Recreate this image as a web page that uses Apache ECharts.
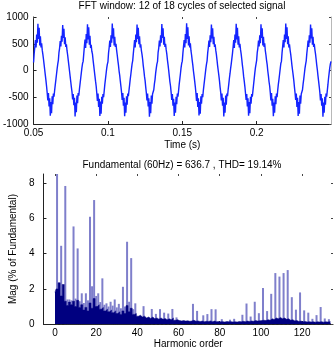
<!DOCTYPE html>
<html><head><meta charset="utf-8">
<script src="https://cdn.jsdelivr.net/npm/echarts@6/dist/echarts.min.js"></script>
<style>html,body{margin:0;padding:0;background:#fff}#c{width:335px;height:350px}</style>
</head><body><div id="c"></div>
<script>
const topTitle = 'FFT window: 12 of 18 cycles of selected signal';
const bottomTitle = 'Fundamental (60Hz) = 636.7 , THD= 19.14%';
const timeName = 'Time (s)';
const orderName = 'Harmonic order';
const magName = 'Mag (% of Fundamental)';

// sampled signal: starts at 0.05 s, 2400 samples per second (40 per 60 Hz cycle)
const timeStart = 0.05;
const sampleRate = 2400;
const signal = [
150,320,440,570,430,670,520,875,590,800,470,640,430,510,380,300,210,110,10,-90,-190,-300,-420,-560,-420,-670,-520,-845,-590,-800,-480,-630,-430,-490,-370,-270,-170,-70,30,120,
190,340,420,550,450,650,540,850,610,780,490,620,440,490,370,290,190,90,-10,-110,-210,-310,-400,-540,-440,-650,-510,-860,-600,-780,-470,-610,-420,-470,-350,-250,-150,-50,50,130,
170,310,450,580,420,680,510,865,580,810,480,650,420,480,360,310,200,100,0,-100,-200,-290,-420,-570,-430,-680,-530,-850,-580,-810,-490,-620,-440,-500,-380,-260,-160,-60,40,115,
160,330,430,560,440,660,520,880,600,790,470,630,440,500,380,290,190,100,-10,-90,-200,-300,-410,-550,-420,-660,-510,-855,-600,-790,-480,-640,-430,-480,-370,-270,-160,-70,30,125,
185,320,440,570,430,670,530,860,590,800,490,640,430,490,370,300,210,90,0,-110,-190,-310,-420,-560,-430,-670,-520,-865,-590,-800,-470,-620,-440,-470,-360,-250,-170,-50,40,120,
165,340,420,560,450,660,520,870,610,790,480,630,440,500,390,310,200,110,10,-100,-210,-290,-410,-550,-440,-660,-530,-850,-600,-790,-490,-630,-430,-490,-380,-260,-160,-60,50,130,
175,325,450,570,430,680,510,885,590,810,470,640,430,510,370,290,190,100,-10,-100,-200,-300,-420,-570,-420,-680,-520,-840,-590,-810,-480,-620,-440,-500,-370,-270,-170,-70,30,115,
180,330,430,560,440,660,530,860,600,790,490,630,440,490,380,300,200,90,0,-90,-190,-310,-410,-560,-430,-660,-510,-860,-600,-790,-470,-640,-430,-480,-360,-260,-150,-60,40,125,
160,320,440,570,420,670,520,875,580,800,480,640,430,500,390,310,210,100,10,-110,-200,-300,-420,-550,-440,-670,-520,-845,-590,-800,-490,-620,-440,-490,-380,-270,-160,-50,50,120,
190,340,420,560,450,660,510,865,610,790,470,630,440,510,370,290,190,110,-10,-100,-210,-290,-410,-560,-420,-660,-530,-855,-600,-790,-480,-630,-430,-500,-370,-260,-170,-70,30,130,
170,330,450,570,430,670,530,880,590,810,490,640,430,490,380,300,200,90,0,-90,-190,-310,-420,-550,-430,-680,-510,-850,-590,-810,-470,-620,-440,-470,-360,-250,-160,-60,40,115,
180,320,430,560,440,660,520,860,600,790,480,630,440,500,390,310,210,100,10,-100,-200,-300,-410,-560,-440,-660,-520,-865,-600,-790,-490,-640,-430,-490,-380,-270,-150,-50,50,125,
170
];
const timeTicks = [0.05, 0.1, 0.15, 0.2];
const ampTicks = [-1000, -500, 0, 500, 1000];

// dense spectrum floor, one value per harmonic order 0..134
const floorValues = [
1.8,2.0,2.35,1.6,2.25,1.3,1.05,1.25,1.1,1.3,
1.0,1.35,0.95,1.1,0.8,0.95,0.75,1.2,0.9,1.45,
1.0,1.1,0.85,0.95,0.75,0.85,0.7,0.8,0.65,0.75,
0.6,0.7,0.55,0.75,0.6,1.05,0.7,0.9,0.55,0.6,
0.45,0.5,0.4,0.45,0.35,0.4,0.32,0.4,0.3,0.35,
0.28,0.35,0.27,0.32,0.25,0.3,0.25,0.35,0.22,0.25,
0.2,0.18,0.2,0.17,0.19,0.16,0.18,0.22,0.16,0.18,
0.15,0.17,0.14,0.16,0.15,0.18,0.14,0.17,0.13,0.15,
0.13,0.14,0.12,0.15,0.13,0.14,0.12,0.13,0.12,0.15,
0.13,0.16,0.14,0.17,0.15,0.18,0.16,0.2,0.17,0.19,
0.2,0.22,0.2,0.25,0.22,0.3,0.26,0.35,0.3,0.38,
0.3,0.35,0.27,0.3,0.22,0.25,0.18,0.2,0.15,0.17,
0.13,0.15,0.12,0.14,0.12,0.13,0.11,0.13,0.12,0.14,
0.11,0.13,0.12,0.14,0.12
];
// individual harmonic spikes
const spikeOrders = [1,3,5,6,7,8,9,10,11,12,13,14,15,16,17,18,19,20,21,22,23,24,25,26,27,28,29,30,31,32,33,34,35,36,37,38,39,43,47,49,51,53,55,57,59,67,69,72,74,76,78,81,85,87,91,93,95,97,99,101,103,105,107,109,111,113,115,117,119,121,123,125,127,129,131,133];
const spikeValues = [100,4.45,7.85,1.4,1.4,1.35,5.55,1.45,4.3,1.3,1.75,1.2,1.75,1.35,6.1,2.15,7.05,1.6,1.75,1.25,2.6,1.1,1.18,1.0,1.27,1.05,1.4,0.95,1.15,0.9,2.12,1.0,4.68,1.27,3.75,0.85,1.18,1.02,0.86,0.58,0.85,0.65,0.6,0.86,0.38,1.15,0.75,0.5,0.57,0.85,0.84,0.28,0.25,0.3,0.53,1.17,0.43,1.27,0.62,2.05,0.74,1.72,2.9,2.7,2.9,3.07,1.53,0.82,1.8,0.78,0.65,0.3,0.51,0.97,0.32,0.28];
const orderTicks = [0, 20, 40, 60, 80, 100, 120];
const magTicks = [0, 2, 4, 6, 8];

const FONT = 'Liberation Sans, Arial, sans-serif';
const signalData = signal.map((v, i) => [timeStart + i / sampleRate, v]);
const floorData = floorValues.map((v, i) => [i, v]);
const spikeData = spikeOrders.map((o, i) => [o, spikeValues[i]]);

const lbl = (extra) => Object.assign({color: '#000', fontSize: 10, fontFamily: FONT}, extra);

const chart = echarts.init(document.getElementById('c'), null, {renderer: 'canvas'});
chart.setOption({
  animation: false,
  backgroundColor: '#fff',
  grid: [
    {left: 33, right: 4, top: 17, height: 107},
    {left: 33, right: 2, top: 174, height: 151}
  ],
  graphic: [
    {type: 'text', x: 182, y: 6, style: {text: topTitle, align: 'center', verticalAlign: 'middle', font: '10px ' + FONT, fill: '#000'}},
    {type: 'text', x: 182, y: 165, style: {text: bottomTitle, align: 'center', verticalAlign: 'middle', font: '10px ' + FONT, fill: '#000'}}
  ],
  xAxis: [
    {type: 'value', gridIndex: 0, min: 0.05, max: 0.25, position: 'bottom',
     name: timeName, nameLocation: 'middle', nameGap: 16, nameTextStyle: lbl(),
     axisLine: {show: true, onZero: false, lineStyle: {color: '#222', width: 1}},
     axisTick: {show: true, inside: true, length: 3, customValues: timeTicks, lineStyle: {color: '#222'}},
     axisLabel: lbl({margin: 4, customValues: timeTicks, formatter: v => String(Number(v.toFixed(2)))}),
     splitLine: {show: false}},
    {type: 'value', gridIndex: 0, min: 0.05, max: 0.25, position: 'top',
     axisLine: {show: false, onZero: false},
     axisTick: {show: true, inside: true, length: 2, customValues: timeTicks, lineStyle: {color: '#444'}},
     axisLabel: {show: false}, splitLine: {show: false}},
    {type: 'value', gridIndex: 1, min: -5.6, max: 135, position: 'bottom',
     name: orderName, nameLocation: 'middle', nameGap: 13, nameTextStyle: lbl(),
     axisLine: {show: true, onZero: false, lineStyle: {color: '#222', width: 1}},
     axisTick: {show: true, inside: true, length: 3, customValues: orderTicks, lineStyle: {color: '#222'}},
     axisLabel: lbl({margin: 4, customValues: orderTicks}),
     splitLine: {show: false}},
    {type: 'value', gridIndex: 1, min: -5.6, max: 135, position: 'top',
     axisLine: {show: false, onZero: false},
     axisTick: {show: true, inside: true, length: 2, customValues: orderTicks, lineStyle: {color: '#444'}},
     axisLabel: {show: false}, splitLine: {show: false}}
  ],
  yAxis: [
    {type: 'value', gridIndex: 0, min: -1000, max: 1000, interval: 500, position: 'left',
     axisLine: {show: true, onZero: false, lineStyle: {color: '#222', width: 1}},
     axisTick: {show: true, inside: true, length: 3, lineStyle: {color: '#222'}},
     axisLabel: lbl({margin: 5, customValues: ampTicks, formatter: v => String(v)}),
     splitLine: {show: false}},
    {type: 'value', gridIndex: 0, min: -1000, max: 1000, interval: 500, position: 'right',
     axisLine: {show: true, onZero: false, lineStyle: {color: '#b8b8b8', width: 1}},
     axisTick: {show: true, inside: true, length: 2, lineStyle: {color: '#444'}},
     axisLabel: {show: false}, splitLine: {show: false}},
    {type: 'value', gridIndex: 1, min: 0, max: 8.53, position: 'left',
     name: magName, nameLocation: 'middle', nameGap: 17, nameRotate: 90, nameTextStyle: lbl(),
     axisLine: {show: true, onZero: false, lineStyle: {color: '#222', width: 1}},
     axisTick: {show: true, inside: true, length: 3, customValues: magTicks, lineStyle: {color: '#222'}},
     axisLabel: lbl({margin: 9, customValues: magTicks}),
     splitLine: {show: false}},
    {type: 'value', gridIndex: 1, min: 0, max: 8.53, position: 'right',
     axisLine: {show: false, onZero: false},
     axisTick: {show: true, inside: true, length: 2, customValues: magTicks, lineStyle: {color: '#444'}},
     axisLabel: {show: false}, splitLine: {show: false}}
  ],
  series: [
    {type: 'line', xAxisIndex: 0, yAxisIndex: 0, data: signalData, showSymbol: false, symbol: 'none',
     sampling: false, lineStyle: {color: '#1424ff', width: 1.4}, z: 3},
    {type: 'bar', xAxisIndex: 2, yAxisIndex: 2, data: spikeData, barWidth: 2,
     itemStyle: {color: '#7f7fcb'}, clip: true, z: 2},
    {type: 'line', xAxisIndex: 2, yAxisIndex: 2, data: floorData, step: 'middle', showSymbol: false, symbol: 'none',
     lineStyle: {color: '#000080', width: 0.5}, areaStyle: {color: '#000080', opacity: 1}, z: 3}
  ]
});
</script>
</body></html>
